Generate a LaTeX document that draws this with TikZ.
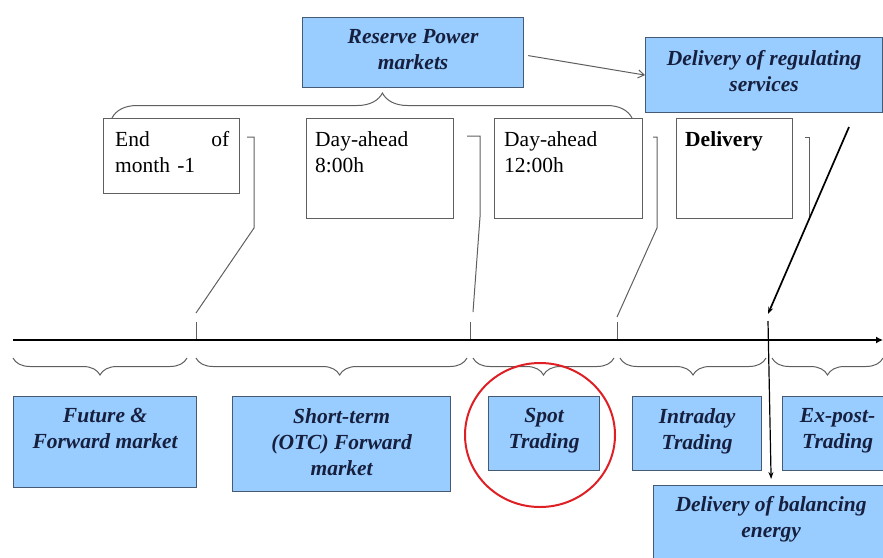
\documentclass[tikz,border=0pt]{standalone}
\usepackage{fontspec}
\setmainfont{Liberation Serif}
\usetikzlibrary{decorations.pathreplacing,arrows.meta,calc,shapes.geometric}
\definecolor{boxblue}{RGB}{153,204,255}
\definecolor{boxline}{RGB}{70,90,115}
\definecolor{navy}{RGB}{22,32,62}
\definecolor{connc}{RGB}{95,95,95}
\definecolor{circc}{RGB}{222,32,36}
\begin{document}
\begin{tikzpicture}[x=1pt,y=-1pt,
  bbox/.style={draw=boxline,fill=boxblue,line width=1.2pt,inner sep=0pt,anchor=north west},
  wbox/.style={draw=connc,fill=white,line width=1pt,inner sep=0pt,anchor=north west},
  btext/.style={anchor=north,inner sep=0pt,align=center,text=navy,font=\fontsize{21.5}{26}\selectfont\bfseries\itshape},
  wtext/.style={anchor=north west,inner sep=0pt,align=left,font=\fontsize{21.5}{26}\selectfont},
  connline/.style={draw=connc,line width=1pt},
  bracedeco/.style={draw=connc,line width=1pt,decorate},
]
\useasboundingbox (0,0) rectangle (883,557);
\clip (0,0) rectangle (883,557);

% ---------- top boxes ----------
\node[bbox,minimum width=221pt,minimum height=70pt] (res) at (302,17) {};
\node[btext] (rest) at ([yshift=-12pt]res.north) {Reserve Power\\markets};
\node[bbox,minimum width=237pt,minimum height=75pt] (dreg) at (645,37) {};
\node[btext] (dregt) at ([yshift=-13pt]dreg.north) {Delivery of regulating\\services};

\node[wbox,minimum width=136pt,minimum height=75pt] (eom) at (103,118) {};
\node[wtext,text width=114pt] (eomt) at ([shift={(12pt,-13pt)}]eom.north west) {End\hfill of\\month -1};
\node[wbox,minimum width=147pt,minimum height=100pt] (da8) at (306,118) {};
\node[wtext] (da8t) at ([shift={(9pt,-13pt)}]da8.north west) {Day-ahead\\8:00h};
\node[wbox,minimum width=148pt,minimum height=100pt] (da12) at (494,118) {};
\node[wtext] (da12t) at ([shift={(10pt,-13pt)}]da12.north west) {Day-ahead\\12:00h};
\node[wbox,minimum width=116pt,minimum height=100pt] (del) at (676,118) {};
\node[wtext,font=\fontsize{21.5}{26}\selectfont\bfseries] (delt) at ([shift={(9pt,-13pt)}]del.north west) {Delivery};

% ---------- top brace ----------
\coordinate (tb0) at (112,118);
\coordinate (tb1) at (632,118);
\draw[bracedeco,decoration={brace,amplitude=25pt,aspect=0.52}] (tb0) -- (tb1);

% reserve -> regulating
\draw[draw=connc,line width=1pt,-{Straight Barb[length=6pt,width=8pt]}] ([shift={(4pt,-3pt)}]res.east) -- (dreg.west);

% ---------- connectors from top boxes to the axis ----------
\coordinate (c1a) at (247,137); \coordinate (c1b) at (254,137);
\coordinate (c1c) at (254,228); \coordinate (c1d) at (196,313);
\coordinate (c1e) at (196,322); \coordinate (c1f) at (196,340);
\draw[connline] (c1a) -- (c1b) -- (c1c) -- (c1d);
\draw[connline] (c1e) -- (c1f);

\coordinate (c2a) at (467,136); \coordinate (c2b) at (480,136);
\coordinate (c2c) at (480,217); \coordinate (c2d) at (473,312);
\coordinate (c2e) at (470,322); \coordinate (c2f) at (470,340);
\draw[connline] (c2a) -- (c2b) -- (c2c) -- (c2d);
\draw[connline] (c2e) -- (c2f);

\coordinate (c3a) at (653,137); \coordinate (c3b) at (657,137);
\coordinate (c3c) at (657,228); \coordinate (c3d) at (617,317);
\coordinate (c3e) at (617,322); \coordinate (c3f) at (617,340);
\draw[connline] (c3a) -- (c3b) -- (c3c) -- (c3d);
\draw[connline] (c3e) -- (c3f);

\coordinate (c4a) at (805,137); \coordinate (c4b) at (809,137);
\coordinate (c4c) at (809,217);
\draw[connline] (c4a) -- (c4b) -- (c4c);

% ---------- time axis ----------
\coordinate (ax0) at (13,340);
\coordinate (ax1) at (883,340);
\draw[line width=2.6pt,-{Latex[length=7pt,width=7pt]}] (ax0) -- (ax1);

% thick arrow from top right
\coordinate (ta0) at (849,127);
\coordinate (ta1) at (768,314);
\draw[line width=1.7pt,-{Stealth[length=7pt,width=5pt]}] (ta0) -- (ta1);

% ---------- bottom braces ----------
\coordinate (b1a) at (13,358);  \coordinate (b1b) at (187,358);
\coordinate (b2a) at (196,358); \coordinate (b2b) at (467,358);
\coordinate (b3a) at (473,358); \coordinate (b3b) at (614,358);
\coordinate (b4a) at (620,358); \coordinate (b4b) at (766,358);
\coordinate (b5a) at (772,358); \coordinate (b5b) at (883,358);
\draw[bracedeco,decoration={brace,mirror,amplitude=17pt,aspect=0.5}] (b1a) -- (b1b);
\draw[bracedeco,decoration={brace,mirror,amplitude=17pt,aspect=0.53}] (b2a) -- (b2b);
\draw[bracedeco,decoration={brace,mirror,amplitude=17pt,aspect=0.5}] (b3a) -- (b3b);
\draw[bracedeco,decoration={brace,mirror,amplitude=17pt,aspect=0.5}] (b4a) -- (b4b);
\draw[bracedeco,decoration={brace,mirror,amplitude=17pt,aspect=0.5}] (b5a) -- (b5b);

% ---------- bottom boxes ----------
\node[bbox,minimum width=183pt,minimum height=91pt] (fut) at (13,396) {};
\node[btext] (futt) at ([yshift=-12pt]fut.north) {Future \&\\Forward market};
\node[bbox,minimum width=218pt,minimum height=95pt] (stf) at (232,396) {};
\node[btext] (stft) at ([yshift=-12pt]stf.north) {Short-term\\(OTC) Forward\\market};
\node[bbox,minimum width=111pt,minimum height=74pt] (spot) at (488,396) {};
\node[btext] (spott) at ([yshift=-12pt]spot.north) {Spot\\Trading};
\node[bbox,minimum width=129pt,minimum height=74pt] (intra) at (632,396) {};
\node[btext] (intrat) at ([yshift=-12pt]intra.north) {Intraday\\Trading};
\node[bbox,minimum width=110pt,minimum height=74pt] (expo) at (782,396) {};
\node[btext] (expot) at ([yshift=-12pt]expo.north) {Ex-post-\\Trading};
\node[bbox,minimum width=235pt,minimum height=90pt] (bal) at (653,485) {};
\node[btext] (balt) at ([yshift=-11pt]bal.north) {Delivery of balancing\\energy};

% vertical arrow into balancing energy
\coordinate (va0) at (768,321);
\draw[line width=1.2pt,-{Stealth[length=7pt,width=5pt]}] (va0) -- ([yshift=6pt]bal.north);

% ---------- red circle round spot trading ----------
\node[draw=circc,line width=2pt,ellipse,minimum width=150pt,minimum height=144pt,inner sep=0pt] (ring) at (540,435) {};
\end{tikzpicture}
\end{document}
